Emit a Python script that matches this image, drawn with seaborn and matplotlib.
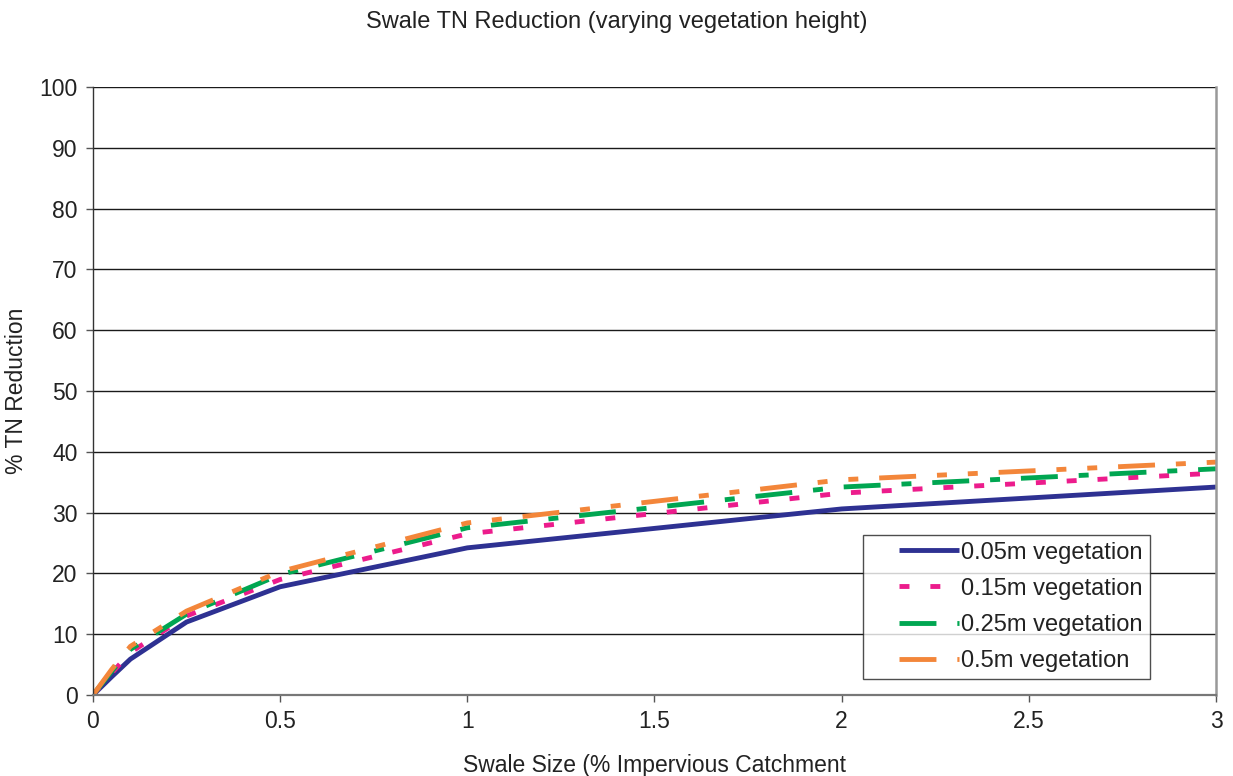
import matplotlib
matplotlib.use("Agg")
import matplotlib.pyplot as plt
import seaborn as sns
import pandas as pd

# ---- data ----
swale_size = [0, 0.05, 0.1, 0.25, 0.5, 1, 2, 3]
veg_005 = [0, 3.0, 5.9, 12.0, 17.8, 24.2, 30.6, 34.2]
veg_015 = [0, 3.6, 7.0, 13.0, 19.0, 26.5, 33.2, 36.5]
veg_025 = [0, 3.9, 7.5, 13.3, 19.8, 27.5, 34.2, 37.2]
veg_05 = [0, 4.2, 8.0, 13.8, 20.3, 28.3, 35.4, 38.3]
series_labels = ["0.05m vegetation", "0.15m vegetation", "0.25m vegetation", "0.5m vegetation"]
x_ticks = [0, 0.5, 1, 1.5, 2, 2.5, 3]
x_tick_labels = ["0", "0.5", "1", "1.5", "2", "2.5", "3"]
y_ticks = list(range(0, 101, 10))

sns.set_theme(style="white")
plt.rcParams["font.family"] = ["Liberation Sans", "DejaVu Sans"]
plt.rcParams["text.color"] = "#222222"

fig = plt.figure(figsize=(12.33, 7.76), dpi=100)
ax = fig.add_axes([0.0754, 0.1044, 0.9108, 0.7835])

colors = ["#2E3192", "#EC1C8C", "#00A651", "#F3863A"]
lw = 3.5
styles = [
    "-",
    (0, (2.05, 4.3)),
    (0, (7.6, 4.3, 2.05, 4.3)),
    (0, (7.6, 4.3, 2.05, 4.3, 2.05, 4.3)),
]
all_y = [veg_005, veg_015, veg_025, veg_05]

for lab, ys, c, ls in zip(series_labels, all_y, colors, styles):
    df = pd.DataFrame({"x": swale_size, "y": ys})
    sns.lineplot(data=df, x="x", y="y", ax=ax, color=c, linewidth=lw,
                 linestyle=ls, label=lab, solid_capstyle="butt", dash_capstyle="butt")

ax.set_xlim(0, 3)
ax.set_ylim(0, 100)
ax.set_xticks(x_ticks)
ax.set_xticklabels(x_tick_labels)
ax.set_yticks(y_ticks)
ax.yaxis.grid(True, color="#1a1a1a", linewidth=1.0)
ax.xaxis.grid(False)
ax.set_axisbelow(True)

ax.spines["top"].set_visible(False)
ax.spines["left"].set_color("#333333")
ax.spines["left"].set_linewidth(1.0)
ax.spines["bottom"].set_color("#777777")
ax.spines["bottom"].set_linewidth(1.6)
ax.spines["right"].set_color("#999999")
ax.spines["right"].set_linewidth(1.8)

ax.tick_params(axis="both", which="major", labelsize=16.5, labelcolor="#222222",
               direction="out", length=5, width=1.0, color="#555555",
               bottom=True, left=True, pad=6)

ax.set_xlabel("Swale Size (% Impervious Catchment", fontsize=16.5, labelpad=15, color="#222222")
ax.set_ylabel("% TN Reduction", fontsize=16.5, labelpad=8, color="#222222")
fig.text(0.5, 0.9716, "Swale TN Reduction (varying vegetation height)",
         ha="center", va="center", fontsize=17, color="#222222")

leg = ax.legend(loc="lower right", bbox_to_anchor=(0.941, 0.026), borderaxespad=0,
                fontsize=17, frameon=True, fancybox=False, edgecolor="#222222",
                handlelength=3.75, handletextpad=0.1, labelspacing=0.6, borderpad=0.3)
leg.get_frame().set_linewidth(1.0)
for line in leg.get_lines():
    xd = list(line.get_xdata())
    x0, x1 = xd[0], xd[-1]
    line.set_data([x0 + (x1 - x0) * 0.32, x1], [line.get_ydata()[0]] * 2)
    line.set_linewidth(lw)

fig.savefig("out.png", dpi=100)
